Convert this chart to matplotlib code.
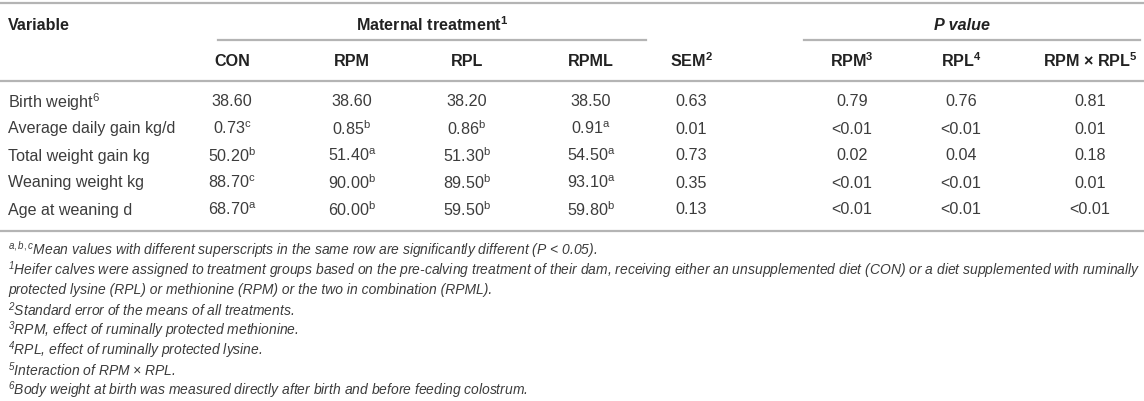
import matplotlib
matplotlib.use("Agg")
import matplotlib.pyplot as plt

plt.rcParams['font.family'] = ['Liberation Sans', 'DejaVu Sans']
plt.rcParams['mathtext.fontset'] = 'custom'
plt.rcParams['mathtext.rm'] = 'Liberation Sans'
plt.rcParams['mathtext.it'] = 'Liberation Sans:italic'
plt.rcParams['mathtext.bf'] = 'Liberation Sans:bold'
plt.rcParams['mathtext.default'] = 'regular'

# table content
variables = ["Birth weight$^{6}$", "Average daily gain kg/d", "Total weight gain kg",
             "Weaning weight kg", "Age at weaning d"]
col_heads = ["CON", "RPM", "RPL", "RPML", "SEM$^{2}$", "RPM$^{3}$", "RPL$^{4}$",
             "RPM \u00d7 RPL$^{5}$"]
con = ["38.60", "0.73", "50.20", "88.70", "68.70"]
con_sup = ["", "c", "b", "c", "a"]
rpm = ["38.60", "0.85", "51.40", "90.00", "60.00"]
rpm_sup = ["", "b", "a", "b", "b"]
rpl = ["38.20", "0.86", "51.30", "89.50", "59.50"]
rpl_sup = ["", "b", "b", "b", "b"]
rpml = ["38.50", "0.91", "54.50", "93.10", "59.80"]
rpml_sup = ["", "a", "a", "a", "b"]
sem = ["0.63", "0.01", "0.73", "0.35", "0.13"]
p_rpm = ["0.79", "<0.01", "0.02", "<0.01", "<0.01"]
p_rpl = ["0.76", "<0.01", "0.04", "<0.01", "<0.01"]
p_int = ["0.81", "0.01", "0.18", "0.01", "<0.01"]
footnotes = [
    "$^{\\mathit{a,b,c}}$Mean values with different superscripts in the same row are significantly different (P < 0.05).",
    "$^{1}$Heifer calves were assigned to treatment groups based on the pre-calving treatment of their dam, receiving either an unsupplemented diet (CON) or a diet supplemented with ruminally",
    "protected lysine (RPL) or methionine (RPM) or the two in combination (RPML).",
    "$^{2}$Standard error of the means of all treatments.",
    "$^{3}$RPM, effect of ruminally protected methionine.",
    "$^{4}$RPL, effect of ruminally protected lysine.",
    "$^{5}$Interaction of RPM \u00d7 RPL.",
    "$^{6}$Body weight at birth was measured directly after birth and before feeding colostrum.",
]

W, H = 1144, 401
fig = plt.figure(figsize=(W / 100, H / 100), dpi=100)
ax = fig.add_axes([0, 0, 1, 1])
ax.set_xlim(0, W)
ax.set_ylim(H, 0)
ax.axis('off')

txt = '#3c3c3c'
head = '#222222'
rule = '#b4b4b4'
fs = 11.6
fs_note = 10.0

cx = [232, 352, 467, 591, 691, 852, 961, 1090]
row_y = [102 + 27 * i for i in range(len(variables))]

# rules
ax.plot([0, W], [3, 3], color=rule, lw=1.6)
ax.plot([218, 646], [40, 40], color=rule, lw=1.6)
ax.plot([804, W - 4], [40, 40], color=rule, lw=1.6)
ax.plot([0, W], [81, 81], color=rule, lw=1.6)
ax.plot([0, W], [231, 231], color=rule, lw=1.6)

# header
ax.text(8, 25, "Variable", ha='left', va='center', fontsize=fs, fontweight='bold', color=head)
ax.text(432, 25, "Maternal treatment$^{1}$", ha='center', va='center', fontsize=fs,
        fontweight='bold', color=head)
ax.text(962, 25, "P value", ha='center', va='center', fontsize=fs, fontweight='bold',
        fontstyle='italic', color=head)
for x, h in zip(cx, col_heads):
    ax.text(x, 61, h, ha='center', va='center', fontsize=fs, fontweight='bold', color=head)

# body
cols = [(con, con_sup), (rpm, rpm_sup), (rpl, rpl_sup), (rpml, rpml_sup),
        (sem, None), (p_rpm, None), (p_rpl, None), (p_int, None)]
for i, y in enumerate(row_y):
    ax.text(8, y, variables[i], ha='left', va='center', fontsize=fs, color=txt)
    for x, (vals, sups) in zip(cx, cols):
        s = vals[i]
        if sups is not None and sups[i]:
            s = s + "$^{" + sups[i] + "}$"
        ax.text(x, y, s, ha='center', va='center', fontsize=fs, color=txt)

# footnotes
for i, note in enumerate(footnotes):
    ax.text(8, 250 + 20 * i, note, ha='left', va='center', fontsize=fs_note,
            fontstyle='italic', color=txt)

fig.savefig("out.png", dpi=100)
